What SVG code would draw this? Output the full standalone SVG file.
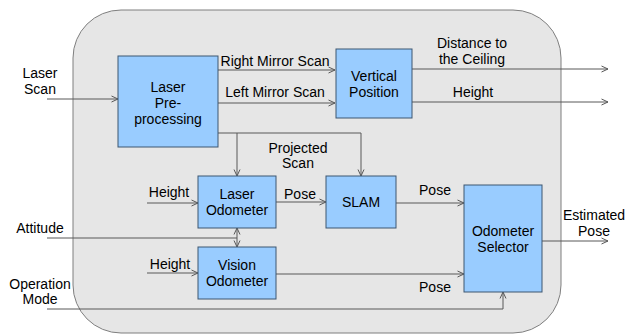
<svg xmlns="http://www.w3.org/2000/svg" width="632" height="334" viewBox="0 0 632 334">
<defs>
<marker id="arr" viewBox="0 0 8 8" refX="7.5" refY="4" markerWidth="8" markerHeight="8" markerUnits="userSpaceOnUse" orient="auto-start-reverse">
<path d="M1,1 L7.5,4 L1,7" fill="none" stroke="#595959" stroke-width="1"/>
</marker>
<style>
.node rect{fill:#99ccff;stroke:#3d5670;stroke-width:1}
.c{fill:none;stroke:#595959;stroke-width:1}
text{font-family:"Liberation Sans",Arial,sans-serif;font-size:14px;fill:#000;text-anchor:middle}
</style>
</defs>
<rect id="container" x="73" y="10" width="488" height="323" rx="48" ry="48" fill="#e6e6e6" stroke="#7f7f7f" stroke-width="1"/>
<g id="connectors">
<path class="c" d="M47,99 H118" marker-end="url(#arr)"/>
<path class="c" d="M218,70 H335" marker-end="url(#arr)"/>
<path class="c" d="M218,103 H335" marker-end="url(#arr)"/>
<path class="c" d="M218,133 H361 V176" marker-end="url(#arr)"/>
<path class="c" d="M237,133 V176" marker-end="url(#arr)"/>
<path class="c" d="M412,69 H608" marker-end="url(#arr)"/>
<path class="c" d="M412,102 H608" marker-end="url(#arr)"/>
<path class="c" d="M147,203 H198" marker-end="url(#arr)"/>
<path class="c" d="M147,273 H198" marker-end="url(#arr)"/>
<path class="c" d="M47,238 H237"/>
<path class="c" d="M237,228 V247" marker-start="url(#arr)" marker-end="url(#arr)"/>
<path class="c" d="M276,202 H326" marker-end="url(#arr)"/>
<path class="c" d="M396,203 H464" marker-end="url(#arr)"/>
<path class="c" d="M276,274 H464" marker-end="url(#arr)"/>
<path class="c" d="M47,309 H503 V292" marker-end="url(#arr)"/>
<path class="c" d="M542,241 H608" marker-end="url(#arr)"/>
</g>
<g id="labels">
<text x="40" y="78">Laser</text>
<text x="40" y="94">Scan</text>
<text x="275" y="66">Right Mirror Scan</text>
<text x="275" y="97">Left Mirror Scan</text>
<text x="298" y="153">Projected</text>
<text x="298" y="168">Scan</text>
<text x="472" y="48">Distance to</text>
<text x="472" y="64">the Ceiling</text>
<text x="473" y="97">Height</text>
<text x="169" y="197">Height</text>
<text x="170" y="269">Height</text>
<text x="40" y="233">Attitude</text>
<text x="300" y="199">Pose</text>
<text x="435" y="195">Pose</text>
<text x="435" y="292">Pose</text>
<text x="40" y="289">Operation</text>
<text x="40" y="304">Mode</text>
<text x="594" y="220">Estimated</text>
<text x="594" y="236">Pose</text>
</g>
<g id="laser-preprocessing" class="node">
<rect x="118" y="56" width="100" height="91"/>
<text x="168" y="92">Laser</text>
<text x="168" y="108">Pre-</text>
<text x="168" y="124">processing</text>
</g>
<g id="vertical-position" class="node">
<rect x="336" y="49" width="76" height="69"/>
<text x="374" y="81">Vertical</text>
<text x="374" y="97">Position</text>
</g>
<g id="laser-odometer" class="node">
<rect x="198" y="176" width="78" height="52"/>
<text x="237" y="199">Laser</text>
<text x="237" y="215">Odometer</text>
</g>
<g id="vision-odometer" class="node">
<rect x="198" y="247" width="78" height="52"/>
<text x="237" y="270">Vision</text>
<text x="237" y="286">Odometer</text>
</g>
<g id="slam" class="node">
<rect x="326" y="176" width="70" height="52"/>
<text x="361" y="207">SLAM</text>
</g>
<g id="odometer-selector" class="node">
<rect x="464" y="185" width="78" height="107"/>
<text x="503" y="236">Odometer</text>
<text x="503" y="252">Selector</text>
</g>
</svg>
